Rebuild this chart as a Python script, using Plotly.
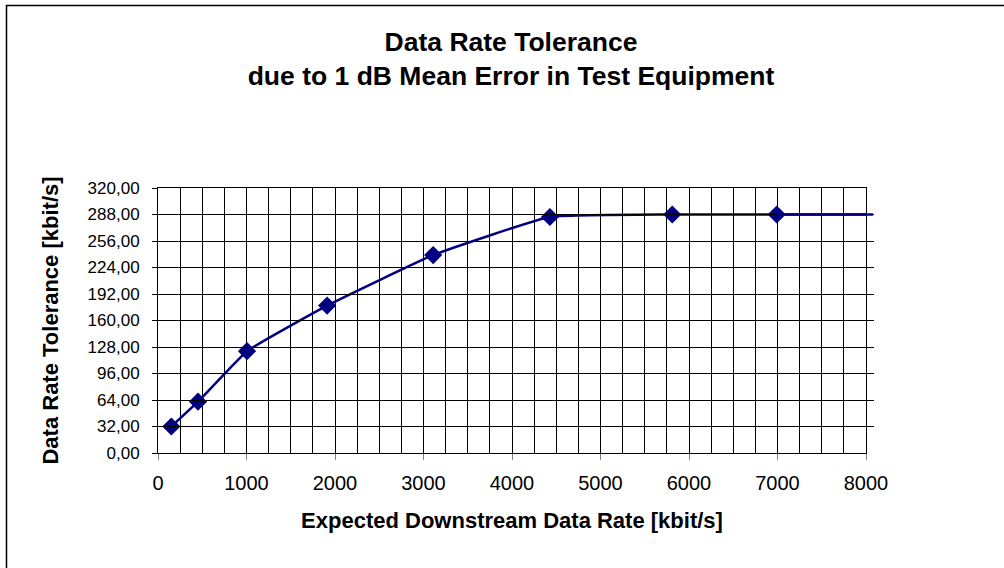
import plotly.graph_objects as go

# Data
rate_kbit = [151, 452, 1006, 1911, 3109, 4428, 5811, 6991, 8080]
tolerance_kbit = [32, 62, 123, 178, 239, 285, 288, 288, 288]
marker_sizes = [14, 14, 14, 14, 14, 14, 14, 14, 0]

y_tick_vals = [0, 32, 64, 96, 128, 160, 192, 224, 256, 288, 320]
y_tick_text = ["0,00", "32,00", "64,00", "96,00", "128,00", "160,00",
               "192,00", "224,00", "256,00", "288,00", "320,00"]
x_tick_vals = [0, 1000, 2000, 3000, 4000, 5000, 6000, 7000, 8000]
x_tick_text = ["0", "1000", "2000", "3000", "4000", "5000", "6000", "7000", "8000"]

FONT = "Liberation Sans, Arial, sans-serif"
NAVY = "#000080"

# plot-area geometry (px)
PX_LEFT, PX_RIGHT, PX_TOP, PX_BOTTOM = 158, 866, 188, 453
PX_EXT = 874  # how far the series line runs past the right frame
X_MAX = 8000

L, T = PX_LEFT, PX_TOP
R = 1004 - PX_EXT
B = 568 - PX_BOTTOM
pw = PX_EXT - PX_LEFT
ph = PX_BOTTOM - PX_TOP
main_frac = (PX_RIGHT - PX_LEFT) / pw

fig = go.Figure()
# overflow segment of the line (drawn on a wider, hidden x-axis with the same scale)
fig.add_trace(go.Scatter(
    x=rate_kbit[-2:], y=tolerance_kbit[-2:],
    mode="lines", line=dict(color=NAVY, width=2.5),
    xaxis="x2", yaxis="y", showlegend=False, hoverinfo="skip",
))
fig.add_trace(go.Scatter(
    x=rate_kbit, y=tolerance_kbit,
    mode="lines+markers",
    line=dict(color=NAVY, width=2.5, shape="spline", smoothing=0.35),
    marker=dict(symbol="diamond", size=marker_sizes, color=NAVY, opacity=1,
                line=dict(width=0)),
    cliponaxis=False,
    showlegend=False,
))

fig.update_layout(
    width=1004, height=568,
    margin=dict(l=L, r=R, t=T, b=B, pad=0),
    paper_bgcolor="white", plot_bgcolor="rgba(0,0,0,0)",
    font=dict(family=FONT, color="black", size=18),
    title=dict(
        text="<b>Data Rate Tolerance<br>due to 1 dB Mean Error in Test Equipment</b>",
        x=511 / 1004, xanchor="center",
        y=1 - 51 / 568, yanchor="middle", yref="container",
        font=dict(size=26.5, family=FONT, color="black"),
    ),
    xaxis=dict(
        domain=[0, main_frac],
        range=[0, X_MAX],
        tickvals=x_tick_vals, ticktext=x_tick_text,
        ticks="outside", ticklen=6, tickcolor="#808080", tickwidth=1,
        ticklabelstandoff=6,
        showgrid=True, gridcolor="black", gridwidth=1,
        minor=dict(dtick=250, showgrid=True, gridcolor="black", gridwidth=1, ticks=""),
        showline=True, linecolor="black", linewidth=1, mirror=True,
        zeroline=False,
        tickfont=dict(size=20),
        title=dict(text="<b>Expected Downstream Data Rate [kbit/s]</b>",
                   font=dict(size=22), standoff=19),
    ),
    xaxis2=dict(
        domain=[0, 1], anchor="y",
        range=[0, X_MAX / main_frac],
        visible=False, showgrid=False, zeroline=False,
    ),
    yaxis=dict(
        range=[0, 320],
        tickvals=y_tick_vals, ticktext=y_tick_text,
        ticks="outside", ticklen=5, tickcolor="black", tickwidth=1,
        ticklabelstandoff=9,
        showgrid=True, gridcolor="black", gridwidth=1,
        showline=True, linecolor="black", linewidth=1, mirror=True,
        zeroline=False,
        tickfont=dict(size=17),
        title=dict(text="<b>Data Rate Tolerance [kbit/s]</b>",
                   font=dict(size=22), standoff=22),
    ),
)

# outer chart-area border (right/bottom edges lie outside the visible page)
fig.add_shape(type="rect", xref="paper", yref="paper",
              x0=(6.5 - L) / pw, x1=(1100 - L) / pw,
              y0=-(700 - PX_BOTTOM) / ph, y1=(PX_BOTTOM - 5.5) / ph,
              line=dict(color="black", width=1.5), fillcolor="rgba(0,0,0,0)",
              layer="below")

fig.write_html("out.html", config={"displayModeBar": False},
               post_script="document.body.style.margin='0';document.body.style.overflow='hidden';")
